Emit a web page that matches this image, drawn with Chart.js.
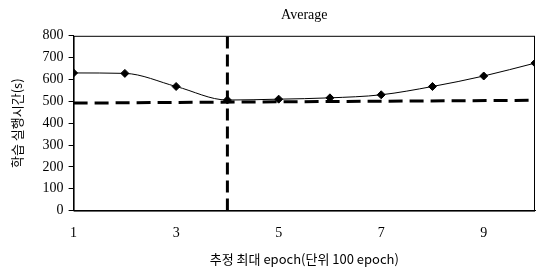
<!DOCTYPE html>
<html>
<head>
<meta charset="utf-8">
<script src="https://cdn.jsdelivr.net/npm/chart.js@4"></script>
<style>
  html, body { margin: 0; padding: 0; background: #fff; overflow: hidden; }
  #wrap { width: 541px; height: 269px; }
</style>
</head>
<body>
<div id="wrap"><canvas id="c"></canvas></div>
<script>
// epoch settings (units of 100 epoch) and average training time (s)
const epochs = [1, 2, 3, 4, 5, 6, 7, 8, 9, 10];
const avgTime = [630, 628, 568, 506, 510, 516, 530, 568, 616, 675];
// horizontal dashed reference line (end points)
const refX = [1, 10];
const refY = [492, 505];
// vertical dashed marker at chosen epoch
const markX = 4;
const yRange = [0, 800];
const xTickLabels = [1, 3, 5, 7, 9];

const serif = "'Liberation Serif', 'DejaVu Serif', serif";
const kr = "'Noto Sans CJK KR', serif";

// frame around the plot area
const framePlugin = {
    id: 'frame',
    afterDraw(chart) {
        const a = chart.chartArea;
        const ctx = chart.ctx;
        ctx.save();
        ctx.strokeStyle = '#000';
        ctx.lineWidth = 1;
        ctx.strokeRect(a.left + 0.5, a.top + 0.5, a.right - a.left - 1, a.bottom - a.top);
        ctx.restore();
    }
};

new Chart(document.getElementById('c'), {
    type: 'line',
    data: {
        datasets: [{
            label: 'Average',
            data: epochs.map((x, i) => ({ x: x, y: avgTime[i] })),
            borderColor: '#000',
            backgroundColor: '#000',
            borderWidth: 1,
            pointStyle: 'rectRot',
            pointRadius: 4,
            cubicInterpolationMode: 'monotone',
            order: 1
        }, {
            label: 'ref',
            data: refX.map((x, i) => ({ x: x, y: refY[i] })),
            borderColor: '#000',
            borderWidth: 3,
            borderDash: [14, 7],
            pointRadius: 0,
            order: 2
        }, {
            label: 'mark',
            data: yRange.map(y => ({ x: markX, y: y })),
            borderColor: '#000',
            borderWidth: 3,
            borderDash: [12, 6],
            pointRadius: 0,
            order: 2
        }]
    },
    options: {
        responsive: true,
        maintainAspectRatio: false,
        animation: false,
        layout: { padding: { left: 9, right: -11, top: 0, bottom: 2 } },
        plugins: {
            legend: { display: false },
            tooltip: { enabled: false },
            title: {
                display: true,
                fullSize: false,
                text: 'Average',
                color: '#000',
                font: { family: serif, size: 14, weight: 'normal' },
                padding: { top: 7, bottom: 12 }
            }
        },
        scales: {
            x: {
                type: 'linear',
                min: 1,
                max: 10,
                border: { color: '#000', width: 1 },
                grid: { display: false },
                ticks: {
                    stepSize: 1,
                    autoSkip: false,
                    maxRotation: 0,
                    padding: 6,
                    color: '#000',
                    font: { family: serif, size: 14 },
                    callback: v => xTickLabels.includes(v) ? String(v) : ''
                },
                title: {
                    display: true,
                    text: '추정 최대 epoch(단위 100 epoch)',
                    color: '#000',
                    font: { family: kr, size: 13 },
                    padding: { top: 4, bottom: 0 }
                }
            },
            y: {
                min: yRange[0],
                max: yRange[1],
                border: { color: '#000', width: 1 },
                grid: { drawOnChartArea: false, drawTicks: true, tickLength: 5, color: '#000' },
                ticks: {
                    stepSize: 100,
                    padding: 5,
                    color: '#000',
                    font: { family: serif, size: 14 }
                },
                title: {
                    display: true,
                    text: '학습 실행시간(s)',
                    color: '#000',
                    font: { family: kr, size: 13 },
                    padding: { top: 0, bottom: 13 }
                }
            }
        }
    },
    plugins: [framePlugin]
});
</script>
</body>
</html>
